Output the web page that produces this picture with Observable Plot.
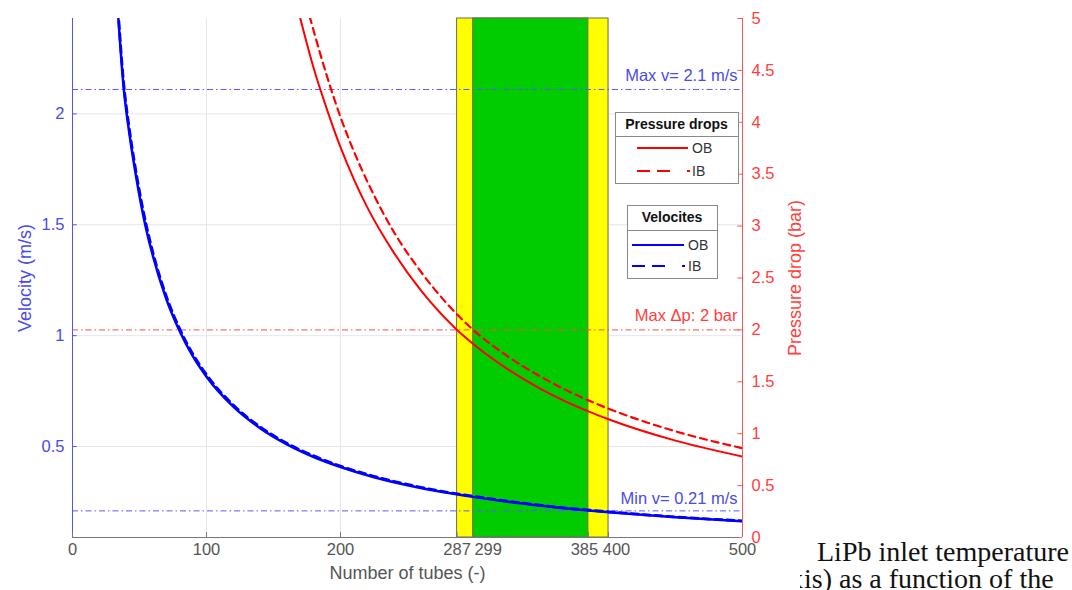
<!DOCTYPE html>
<html><head><meta charset="utf-8">
<script src="https://cdn.jsdelivr.net/npm/d3@7"></script>
<script src="https://cdn.jsdelivr.net/npm/@observablehq/plot@0.6"></script>
<style>
html,body{margin:0;padding:0;background:#fff;}
body{width:1072px;height:590px;overflow:hidden;position:relative;font-family:"Liberation Sans",Arial,sans-serif;}
#chart{position:absolute;left:0;top:0;}
#legend{position:absolute;left:0;top:0;pointer-events:none;}
.cap{position:absolute;font-family:"Liberation Serif","DejaVu Serif",serif;font-size:28px;color:#111;white-space:nowrap;}
#cap2box{position:absolute;left:800px;top:563px;width:272px;height:40px;overflow:hidden;}
</style></head><body>
<div id="chart"></div>
<svg id="legend" width="1072" height="590"></svg>
<div class="cap" style="left:817px;top:536px;">LiPb inlet temperature</div>
<div id="cap2box"><span class="cap" style="right:269px;top:0;">ax</span><span class="cap" style="left:4px;top:0;">is) as a function of the</span></div>
<script>
// ---- data ----
const velTubes = [34,38,42,46,50,55,60,70,80,90,100,120,140,160,180,200,225,250,275,300,325,350,375,400,450,500];
const velOB   = [2.45,2.13,1.93,1.77,1.63,1.48,1.36,1.165,1.02,0.905,0.815,0.68,0.583,0.51,0.453,0.408,0.362,0.326,0.296,0.272,0.251,0.233,0.217,0.204,0.181,0.163];
const velIB   = [2.47,2.15,1.95,1.79,1.65,1.50,1.375,1.178,1.031,0.915,0.824,0.687,0.589,0.515,0.458,0.412,0.366,0.329,0.299,0.275,0.254,0.235,0.219,0.206,0.183,0.165];

const dpTubesOB = [170,180,190,200,210,220,240,260,287,300,325,350,385,400,450,500];
const dpOB      = [5.0,4.52,4.12,3.76,3.45,3.18,2.74,2.38,2.0,1.855,1.62,1.428,1.215,1.139,0.933,0.78];
const dpTubesIB = [177,180,190,200,210,220,240,260,280,299,325,350,385,400,450,500];
const dpIB      = [5.02,4.88,4.44,4.05,3.72,3.43,2.94,2.56,2.245,2.0,1.744,1.545,1.321,1.241,1.023,0.86];

const vMax = 2.11, vMin = 0.21, dpMax = 2;
const refLabels = ["Max v= 2.1 m/s", "Min v= 0.21 m/s", "Max \u0394p: 2 bar"];

const yellowBand = [287, 400];
const greenBand  = [299, 385];

const xTicks  = [0,100,200,287,299,385,400,500];
const vTicks  = [0.5,1,1.5,2];
const dpTicks = [0,0.5,1,1.5,2,2.5,3,3.5,4,4.5,5];

const xDomain  = [0,500];
const vDomain  = [0.09,2.43];
const dpDomain = [0,5];

// ---- helpers ----
const BLUE = "#0000ff", RED = "#ff0000";
const BLUE_T = "#4b4be6", RED_T = "#ff4040", GRAY_T = "#555";
const k = (vDomain[1]-vDomain[0])/(dpDomain[1]-dpDomain[0]);
const toV = p => vDomain[0] + (p - dpDomain[0]) * k;
const fromV = v => Math.round(((v - vDomain[0]) / k + dpDomain[0]) * 100) / 100;

const velData = velTubes.flatMap((n,i) => [{n, v: velOB[i], s:"OB"}, {n, v: velIB[i], s:"IB"}]);
const dpData = [
  ...dpTubesOB.map((n,i) => ({n, v: toV(dpOB[i]), s:"OB"})),
  ...dpTubesIB.map((n,i) => ({n, v: toV(dpIB[i]), s:"IB"}))
];
const bands = [
  {a: yellowBand[0], b: yellowBand[1], c: "#ffff00"},
  {a: greenBand[0],  b: greenBand[1],  c: "#00cc00"}
];
const dashDot = "6,3,1.5,3";
const fs = 16.5, fl = 18;
// crowded x tick labels nudged apart so they stay legible (as in the original)
const xNudge = {287: 0, 299: 15, 385: -4, 400: 8};

const chart = Plot.plot({
  width: 1072, height: 590,
  marginTop: 18, marginBottom: 53, marginLeft: 72, marginRight: 330,
  style: {fontFamily: "'Liberation Sans', Arial, sans-serif", fontSize: fs + "px", background: "transparent", overflow: "visible"},
  x: {domain: xDomain},
  y: {domain: vDomain},
  marks: [
    Plot.gridX(xTicks, {stroke: "#e6e6e6", strokeOpacity: 1}),
    Plot.gridY(vTicks, {stroke: "#e6e6e6", strokeOpacity: 1}),
    Plot.rect(bands, {x1: "a", x2: "b", fill: "c", stroke: "#6f6f50", strokeWidth: 1}),
    // reference lines
    Plot.ruleY([vMax, vMin], {stroke: "#5a5aff", strokeWidth: 1, strokeDasharray: dashDot}),
    Plot.ruleY([toV(dpMax)], {stroke: "#ff4a4a", strokeWidth: 1, strokeDasharray: dashDot}),
    // curves
    Plot.line(velData.filter(d => d.s === "OB"), {x: "n", y: "v", stroke: BLUE, strokeWidth: 2.5, curve: "monotone-x", clip: true}),
    Plot.line(velData.filter(d => d.s === "IB"), {x: "n", y: "v", stroke: BLUE, strokeWidth: 2.8, strokeDasharray: "7,5", curve: "monotone-x", clip: true}),
    Plot.line(dpData.filter(d => d.s === "OB"), {x: "n", y: "v", stroke: RED, strokeWidth: 2, curve: "monotone-x", clip: true}),
    Plot.line(dpData.filter(d => d.s === "IB"), {x: "n", y: "v", stroke: RED, strokeWidth: 2.2, strokeDasharray: "7,5", curve: "monotone-x", clip: true}),
    // reference labels
    Plot.text([refLabels[0]], {x: xDomain[1], y: vMax, dx: -5, dy: -14, textAnchor: "end", fill: BLUE_T, fontSize: fs}),
    Plot.text([refLabels[1]], {x: xDomain[1], y: vMin, dx: -5, dy: -12, textAnchor: "end", fill: BLUE_T, fontSize: fs}),
    Plot.text([refLabels[2]], {x: xDomain[1], y: toV(dpMax), dx: -5, dy: -14, textAnchor: "end", fill: RED_T, fontSize: fs}),
    // axis lines
    Plot.ruleY([vDomain[0]], {stroke: "#777", strokeWidth: 1}),
    Plot.ruleX([xDomain[0]], {stroke: "#5555ee", strokeWidth: 1}),
    Plot.ruleX([xDomain[1]], {stroke: "#ff5555", strokeWidth: 1}),
    // inward ticks
    Plot.ruleY(vTicks, {x1: xDomain[0], x2: xDomain[0] + 3.5, stroke: "#5555ee"}),
    Plot.ruleY(dpTicks.map(toV), {x1: xDomain[1] - 3.5, x2: xDomain[1], stroke: "#ff5555"}),
    Plot.ruleX(xTicks, {y1: vDomain[0], y2: vDomain[0] + 0.022, stroke: "#777"}),
    // axes
    ...xTicks.map(t => Plot.axisX([t], {tickSize: 0, tickPadding: 6, label: null, color: GRAY_T, fontSize: fs, dx: xNudge[t] || 0})),
    Plot.axisY(vTicks, {anchor: "left", tickSize: 0, tickPadding: 8, label: null, color: BLUE_T, fontSize: fs, tickFormat: d => String(d)}),
    Plot.axisY(dpTicks.map(toV), {anchor: "right", tickSize: 0, tickPadding: 9, label: null, color: RED_T, fontSize: fs, tickFormat: v => String(fromV(v))}),
    // axis titles
    Plot.text(["Velocity (m/s)"], {frameAnchor: "left", textAnchor: "middle", dx: -47, rotate: -90, fill: BLUE_T, fontSize: fl}),
    Plot.text(["Pressure drop (bar)"], {frameAnchor: "right", textAnchor: "middle", dx: 53, rotate: -90, fill: RED_T, fontSize: fl}),
    Plot.text(["Number of tubes (-)"], {frameAnchor: "bottom", textAnchor: "middle", dy: 41, fill: GRAY_T, fontSize: fl})
  ]
});
document.getElementById("chart").appendChild(chart);

// ---- legends ----
const legends = [
  {title: "Pressure drops", color: RED, x: 615, y: 112, w: 123, h: 71, div: 24, lx1: 637, lx2: 688, rows: [148, 171]},
  {title: "Velocites", color: BLUE, x: 627, y: 205, w: 90, h: 73, div: 25, lx1: 632, lx2: 684, rows: [245, 266]}
];
const seriesNames = ["OB", "IB"];
const svg = d3.select("#legend");
for (const L of legends) {
  const g = svg.append("g");
  g.append("rect").attr("x", L.x + 0.5).attr("y", L.y + 0.5).attr("width", L.w).attr("height", L.h)
    .attr("fill", "#fff").attr("stroke", "#8a8a8a");
  g.append("line").attr("x1", L.x).attr("x2", L.x + L.w).attr("y1", L.y + L.div + 0.5).attr("y2", L.y + L.div + 0.5).attr("stroke", "#8a8a8a");
  g.append("text").attr("x", L.x + L.w / 2).attr("y", L.y + L.div / 2 + 1).attr("text-anchor", "middle").attr("dominant-baseline", "middle")
    .attr("font-weight", "bold").attr("font-size", 14).attr("fill", "#111").text(L.title);
  L.rows.forEach((ry, i) => {
    g.append("line").attr("x1", L.lx1).attr("x2", L.lx2 + (i ? 2 : 0)).attr("y1", ry).attr("y2", ry)
      .attr("stroke", L.color).attr("stroke-width", 2)
      .attr("stroke-dasharray", i ? "13,7,13,17,3" : null);
    g.append("text").attr("x", L.lx2 + 4).attr("y", ry + 1).attr("dominant-baseline", "middle")
      .attr("font-size", 14).attr("fill", "#333").text(seriesNames[i]);
  });
}
</script>
</body></html>
